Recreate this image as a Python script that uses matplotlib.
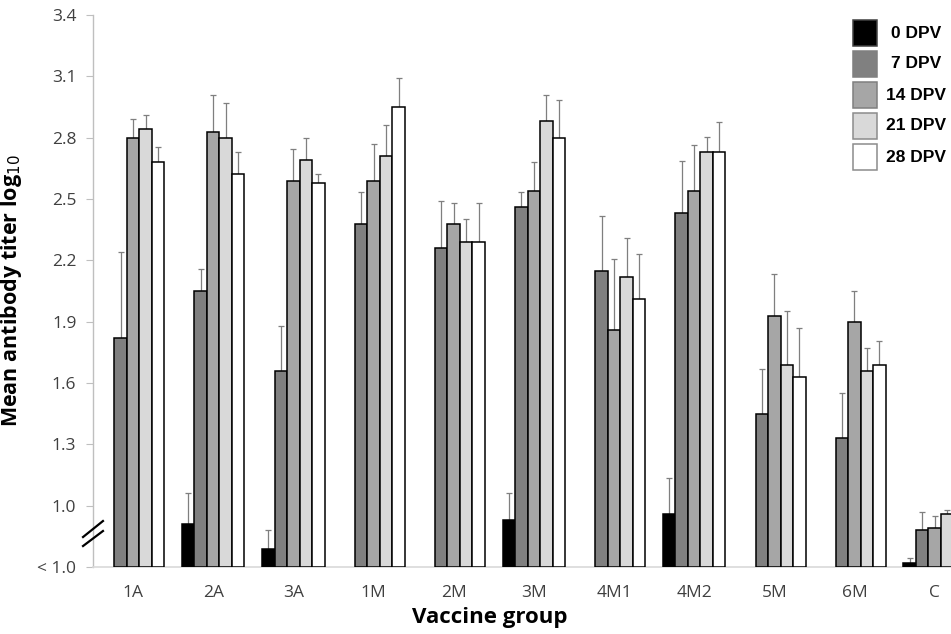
import numpy as np
import matplotlib
matplotlib.use("Agg")
import matplotlib.pyplot as plt
from matplotlib.patches import Rectangle
from matplotlib.lines import Line2D

nan = np.nan
groups = ['1A', '2A', '3A', '1M', '2M', '3M', '4M1', '4M2', '5M', '6M', 'C']
series = ['0 DPV', '7 DPV', '14 DPV', '21 DPV', '28 DPV']

dpv0 = [nan, 0.91, 0.79, nan, nan, 0.93, nan, 0.96, nan, nan, 0.72]
dpv0_err = [0, 0.15, 0.09, 0, 0, 0.13, 0, 0.175, 0, 0, 0.022]
dpv7 = [1.82, 2.05, 1.66, 2.38, 2.26, 2.46, 2.15, 2.43, 1.45, 1.33, 0.88]
dpv7_err = [0.42, 0.11, 0.22, 0.155, 0.23, 0.073, 0.265, 0.257, 0.22, 0.22, 0.088]
dpv14 = [2.80, 2.83, 2.59, 2.59, 2.38, 2.54, 1.86, 2.54, 1.93, 1.90, 0.89]
dpv14_err = [0.09, 0.18, 0.155, 0.18, 0.10, 0.14, 0.345, 0.225, 0.204, 0.148, 0.06]
dpv21 = [2.84, 2.80, 2.69, 2.71, 2.29, 2.88, 2.12, 2.73, 1.69, 1.66, 0.96]
dpv21_err = [0.07, 0.17, 0.11, 0.153, 0.11, 0.13, 0.19, 0.075, 0.264, 0.113, 0.02]
dpv28 = [2.68, 2.62, 2.58, 2.95, 2.29, 2.80, 2.01, 2.73, 1.63, 1.69, 0.97]
dpv28_err = [0.075, 0.108, 0.04, 0.144, 0.19, 0.186, 0.22, 0.145, 0.238, 0.114, 0.03]

yticks = [0.7, 1.0, 1.3, 1.6, 1.9, 2.2, 2.5, 2.8, 3.1, 3.4]
ytick_labels = ['< 1.0', '1.0', '1.3', '1.6', '1.9', '2.2', '2.5', '2.8', '3.1', '3.4']

values = [dpv0, dpv7, dpv14, dpv21, dpv28]
errors = [dpv0_err, dpv7_err, dpv14_err, dpv21_err, dpv28_err]
colors = ['#000000', '#808080', '#a6a6a6', '#d9d9d9', '#ffffff']
legend_edges = ['#404040', '#7f7f7f', '#7f7f7f', '#8c8c8c', '#8c8c8c']

base = 0.7
W, H = 951, 634
fig = plt.figure(figsize=(W / 100, H / 100), dpi=100)
ax = fig.add_axes([93 / W, 67 / H, 881.7 / W, 552 / H])

x = np.arange(len(groups))
bw = 0.156
for i, (vals, errs, col) in enumerate(zip(values, errors, colors)):
    v = np.array(vals, dtype=float)
    e = np.array(errs, dtype=float)
    pos = x + (i - 2) * bw
    ax.bar(pos, v - base, bottom=base, width=bw, color=col,
           edgecolor='black', linewidth=1.1, zorder=3)
    mask = ~np.isnan(v)
    ax.errorbar(pos[mask], v[mask], yerr=[np.zeros(mask.sum()), e[mask]],
                fmt='none', ecolor='#7f7f7f', elinewidth=0.9, capsize=2.2,
                capthick=0.9, zorder=2)

ax.set_xlim(-0.5, len(groups) - 0.5)
ax.set_ylim(0.7, 3.4)
ax.set_yticks(yticks)
ax.set_yticklabels(ytick_labels)
ax.set_xticks(x)
ax.set_xticklabels(groups)

for s in ['top', 'right']:
    ax.spines[s].set_visible(False)
ax.spines['left'].set_color('#bfbfbf')
ax.spines['bottom'].set_color('#d9d9d9')
ax.spines['left'].set_linewidth(1.0)
ax.spines['bottom'].set_linewidth(1.2)

ax.tick_params(axis='y', length=5, width=0.8, color='#bfbfbf', pad=7,
               labelsize=12.5, labelcolor='#404040')
ax.tick_params(axis='x', length=0, pad=13, labelsize=12.5, labelcolor='#404040')
for lab in ax.get_xticklabels() + ax.get_yticklabels():
    lab.set_fontfamily('Open Sans')

ax.set_ylabel('Mean antibody titer log$_{10}$', fontsize=15.5, fontweight='bold',
              fontfamily='Open Sans', color='black')
ax.set_xlabel('Vaccine group', fontsize=16, fontweight='bold',
              fontfamily='Open Sans', color='black')
ax.yaxis.set_label_coords(-0.078, 0.5)
ax.xaxis.set_label_coords(0.45, -0.072)

# axis break marks
for y0, y1 in [(0.0543, 0.0833), (0.038, 0.0652)]:
    ax.add_line(Line2D([-0.0113, 0.0113], [y0, y1], transform=ax.transAxes,
                       color='black', linewidth=1.6, clip_on=False, zorder=5))

# legend (manual, centred labels)
top0 = 20
step = 31
for i, lab in enumerate(series):
    ytop = top0 + i * step
    fig.patches.append(Rectangle((853 / W, 1 - (ytop + 25.5) / H), 24 / W, 25.5 / H,
                                 transform=fig.transFigure, facecolor=colors[i],
                                 edgecolor=legend_edges[i], linewidth=1.1))
    fig.text(916 / W, 1 - (ytop + 13) / H, lab, ha='center', va='center',
             fontsize=12.5, fontweight='bold', fontfamily='Liberation Sans',
             color='black')

fig.savefig('out.png', dpi=100)
